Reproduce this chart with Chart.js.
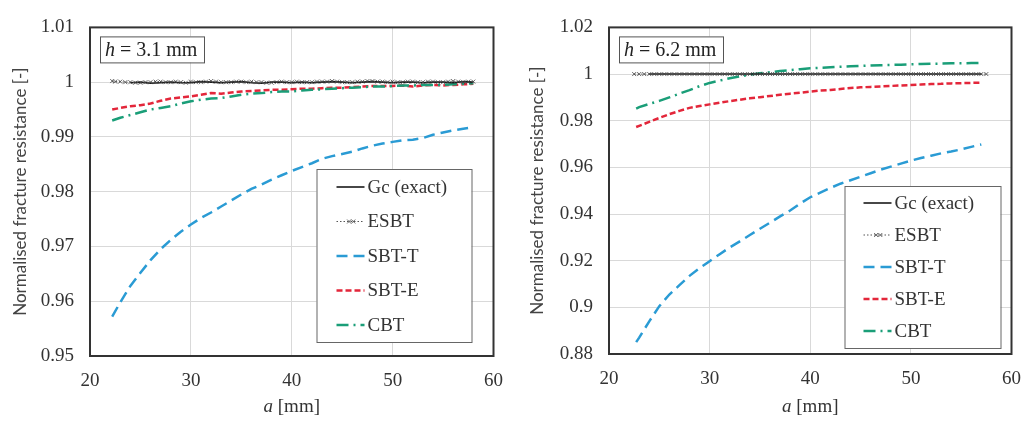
<!DOCTYPE html>
<html>
<head>
<meta charset="utf-8">
<script src="https://cdn.jsdelivr.net/npm/chart.js@4.4.1/dist/chart.umd.min.js"></script>
<style>
  html, body { margin: 0; padding: 0; background: #fff; }
  #wrap { position: relative; width: 1035px; height: 423px; }
  canvas { position: absolute; top: 0; }
  #left { left: 0; }
  #right { left: 517px; }
</style>
</head>
<body>
<div id="wrap">
  <canvas id="left" width="517" height="423"></canvas>
  <canvas id="right" width="518" height="423"></canvas>
</div>
<script>
// ---- data: left panel (h = 3.1 mm) ----
const aLeft = [22.2, 23, 24, 25, 26, 27, 28, 29, 30, 31, 32, 33, 34, 35, 36, 37, 38, 39, 40,
  41, 42, 43, 44, 45, 46, 47, 48, 49, 50, 51, 52, 53, 54, 55, 56, 57, 58];
const gcLeft = [null, null, 0.9999, 1.0000, 0.9998, 0.9999, 1.0000, 0.9999, 0.9999, 1.0001, 1.0000,
  0.9999, 1.0000, 1.0001, 0.9999, 0.9998, 1.0000, 1.0000, 0.9999, 1.0000, 0.9999, 1.0000, 1.0001,
  1.0000, 0.9999, 1.0000, 1.0001, 1.0000, 0.9999, 1.0000, 1.0000, 0.9999, 1.0000, 1.0000, 0.9999,
  1.0001, 1.0000];
const sbtTLeft = [0.9572, 0.9598, 0.9628, 0.9652, 0.9675, 0.9695, 0.9712, 0.9727, 0.9740, 0.9752,
  0.9762, 0.9773, 0.9784, 0.9795, 0.9805, 0.9813, 0.9822, 0.9830, 0.9838, 0.9845, 0.9852, 0.9860,
  0.9865, 0.9869, 0.9873, 0.9879, 0.9884, 0.9888, 0.9891, 0.9894, 0.9895, 0.9898, 0.9904, 0.9908,
  0.9912, 0.9915, 0.9918];
const sbtELeft = [0.9950, 0.9953, 0.9956, 0.9958, 0.9961, 0.9966, 0.9970, 0.9972, 0.9974, 0.9977,
  0.9980, 0.9979, 0.9981, 0.9983, 0.9984, 0.9985, 0.9986, 0.9986, 0.9987, 0.9988, 0.9988, 0.9989,
  0.9990, 0.9990, 0.9991, 0.9992, 0.9993, 0.9993, 0.9993, 0.9994, 0.9992, 0.9994, 0.9995, 0.9994,
  0.9995, 0.9996, 0.9997];
const cbtLeft = [0.9930, 0.9935, 0.9940, 0.9945, 0.9950, 0.9953, 0.9956, 0.9961, 0.9965, 0.9968,
  0.9970, 0.9971, 0.9974, 0.9977, 0.9979, 0.9980, 0.9982, 0.9983, 0.9983, 0.9985, 0.9986, 0.9987,
  0.9988, 0.9989, 0.9990, 0.9991, 0.9992, 0.9992, 0.9993, 0.9994, 0.9994, 0.9995, 0.9995, 0.9995,
  0.9996, 0.9997, 0.9998];
// ESBT is sampled more densely (every 0.5 mm)
const aEsbtLeft = [22.2, 22.5, 23, 23.5, 24, 24.5, 25, 25.5, 26, 26.5, 27, 27.5, 28, 28.5, 29, 29.5,
  30, 30.5, 31, 31.5, 32, 32.5, 33, 33.5, 34, 34.5, 35, 35.5, 36, 36.5, 37, 37.5, 38, 38.5, 39, 39.5,
  40, 40.5, 41, 41.5, 42, 42.5, 43, 43.5, 44, 44.5, 45, 45.5, 46, 46.5, 47, 47.5, 48, 48.5, 49, 49.5,
  50, 50.5, 51, 51.5, 52, 52.5, 53, 53.5, 54, 54.5, 55, 55.5, 56, 56.5, 57, 57.5, 58];
const esbtLeft = [1.0002, 1.0001, 1.0001, 1.0000, 1.0000, 0.9999, 0.9999, 1.0000, 1.0000, 1.0001,
  1.0001, 1.0000, 1.0000, 1.0001, 1.0000, 0.9999, 1.0001, 1.0000, 1.0000, 1.0001, 1.0002, 1.0001,
  1.0000, 1.0000, 1.0000, 1.0001, 1.0001, 1.0000, 1.0001, 1.0000, 1.0000, 0.9999, 0.9999, 1.0000,
  1.0001, 1.0000, 1.0000, 1.0001, 1.0000, 1.0000, 1.0000, 1.0001, 1.0001, 1.0001, 1.0002, 1.0001,
  1.0000, 1.0000, 1.0000, 1.0001, 1.0001, 1.0002, 1.0002, 1.0001, 1.0001, 1.0000, 1.0001, 1.0000,
  1.0000, 1.0001, 1.0001, 1.0000, 1.0000, 1.0001, 1.0001, 1.0000, 1.0000, 1.0001, 1.0002, 1.0001,
  1.0000, 1.0001, 1.0001];

// ---- data: right panel (h = 6.2 mm) ----
const aRight = [22.7, 23, 24, 25, 26, 27, 28, 29, 30, 31, 32, 33, 34, 35, 36, 37, 38, 39, 40,
  41, 42, 43, 44, 45, 46, 47, 48, 49, 50, 51, 52, 53, 54, 55, 56, 57];
const gcRight = [null, null, 1, 1, 1, 1, 1, 1, 1, 1, 1, 1, 1, 1, 1, 1, 1, 1, 1, 1, 1, 1, 1, 1, 1,
  1, 1, 1, 1, 1, 1, 1, 1, 1, 1, 1];
const sbtTRight = [0.8851, 0.8870, 0.8940, 0.9005, 0.9055, 0.9095, 0.9135, 0.9168, 0.9198, 0.9228,
  0.9257, 0.9283, 0.9310, 0.9337, 0.9363, 0.9390, 0.9415, 0.9445, 0.9472, 0.9492, 0.9512, 0.9530,
  0.9545, 0.9560, 0.9575, 0.9590, 0.9603, 0.9616, 0.9629, 0.9640, 0.9650, 0.9660, 0.9668, 0.9677,
  0.9688, 0.9698];
const sbtERight = [0.9773, 0.9778, 0.9795, 0.9812, 0.9828, 0.9842, 0.9855, 0.9863, 0.9870, 0.9877,
  0.9884, 0.9890, 0.9896, 0.9901, 0.9906, 0.9911, 0.9916, 0.9920, 0.9925, 0.9929, 0.9932, 0.9936,
  0.9940, 0.9943, 0.9945, 0.9947, 0.9949, 0.9951, 0.9953, 0.9955, 0.9957, 0.9958, 0.9960, 0.9961,
  0.9962, 0.9963];
const cbtRight = [0.9852, 0.9858, 0.9872, 0.9885, 0.9900, 0.9916, 0.9931, 0.9948, 0.9962, 0.9972,
  0.9982, 0.9990, 0.9997, 1.0003, 1.0008, 1.0013, 1.0017, 1.0021, 1.0025, 1.0027, 1.0029, 1.0031,
  1.0033, 1.0035, 1.0037, 1.0038, 1.0039, 1.0040, 1.0042, 1.0043, 1.0044, 1.0045, 1.0046, 1.0046,
  1.0047, 1.0048];
const aEsbtRight = [22.5, 23, 23.5, 24, 24.5, 25, 25.5, 26, 26.5, 27, 27.5, 28, 28.5, 29, 29.5,
  30, 30.5, 31, 31.5, 32, 32.5, 33, 33.5, 34, 34.5, 35, 35.5, 36, 36.5, 37, 37.5, 38, 38.5, 39, 39.5,
  40, 40.5, 41, 41.5, 42, 42.5, 43, 43.5, 44, 44.5, 45, 45.5, 46, 46.5, 47, 47.5, 48, 48.5, 49, 49.5,
  50, 50.5, 51, 51.5, 52, 52.5, 53, 53.5, 54, 54.5, 55, 55.5, 56, 56.5, 57, 57.5];
const esbtRight = [1, 1, 1, 1, 1, 1, 1, 1, 1, 1, 1, 1, 1, 1, 1, 1, 1, 1, 1, 1, 1, 1, 1, 1, 1, 1,
  1, 1, 1, 1, 1, 1, 1, 1, 1, 1, 1, 1, 1, 1, 1, 1, 1, 1, 1, 1, 1, 1, 1, 1, 1, 1, 1, 1, 1, 1, 1, 1,
  1, 1, 1, 1, 1, 1, 1, 1, 1, 1, 1, 1, 1];

const seriesNames = ['Gc (exact)', 'ESBT', 'SBT-T', 'SBT-E', 'CBT'];
const xTicks = [20, 30, 40, 50, 60];

const SERIF = '"Liberation Serif", "DejaVu Serif", serif';

function pts(a, v) {
  return a.map((x, i) => ({ x: x, y: v[i] }));
}

function makeDatasets(a, gc, aEsbt, esbt, sbtT, sbtE, cbt) {
  return [
    { label: seriesNames[0], data: pts(a, gc), borderColor: '#1a1a1a', borderWidth: 1.6,
      pointRadius: 0, order: 2 },
    { label: seriesNames[1], data: pts(aEsbt, esbt), borderColor: '#555', borderWidth: 1,
      borderDash: [1.5, 2], pointStyle: 'crossRot', pointRadius: 2.8,
      pointBorderColor: '#444', pointBorderWidth: 0.8, order: 1 },
    { label: seriesNames[2], data: pts(a, sbtT), borderColor: '#2a9bd4', borderWidth: 2.5,
      borderDash: [11, 6], pointRadius: 0, order: 5 },
    { label: seriesNames[3], data: pts(a, sbtE), borderColor: '#e3263a', borderWidth: 2.5,
      borderDash: [6, 3], pointRadius: 0, order: 4 },
    { label: seriesNames[4], data: pts(a, cbt), borderColor: '#1a9e78', borderWidth: 2.5,
      borderDash: [12, 5, 2, 5], pointRadius: 0, order: 3 }
  ];
}

// frame round the plot area
const framePlugin = {
  id: 'frame',
  afterDatasetsDraw(chart) {
    const c = chart.chartArea, ctx = chart.ctx;
    ctx.save();
    ctx.strokeStyle = '#333';
    ctx.lineWidth = 2;
    ctx.strokeRect(c.left, c.top, c.right - c.left, c.bottom - c.top);
    ctx.restore();
  }
};

// boxed legend inside the plot, with line samples taken from the datasets
const boxLegendPlugin = {
  id: 'boxLegend',
  afterDraw(chart, args, opts) {
    const c = chart.chartArea, ctx = chart.ctx;
    const x0 = c.right - opts.inset.right - opts.width;
    const y0 = c.bottom - opts.inset.bottom - opts.height;
    ctx.save();
    ctx.fillStyle = '#fff';
    ctx.fillRect(x0, y0, opts.width, opts.height);
    ctx.strokeStyle = '#666';
    ctx.lineWidth = 1;
    ctx.strokeRect(x0 + 0.5, y0 + 0.5, opts.width, opts.height);
    ctx.font = '19px ' + SERIF;
    ctx.fillStyle = '#333';
    ctx.textBaseline = 'middle';
    chart.data.datasets.forEach((ds, i) => {
      const y = y0 + opts.firstRow + i * opts.rowGap;
      const lx = x0 + opts.sampleX;
      ctx.save();
      ctx.strokeStyle = ds.borderColor;
      ctx.lineWidth = ds.borderWidth;
      ctx.setLineDash(ds.borderDash || []);
      ctx.beginPath();
      ctx.moveTo(lx, y);
      ctx.lineTo(lx + opts.sampleW, y);
      ctx.stroke();
      if (ds.pointRadius) {
        ctx.setLineDash([]);
        ctx.lineWidth = 0.8;
        ctx.strokeStyle = ds.pointBorderColor;
        [0.45, 0.6].forEach(f => {
          const px = lx + opts.sampleW * f, r = 2;
          ctx.beginPath();
          ctx.moveTo(px - r, y - r); ctx.lineTo(px + r, y + r);
          ctx.moveTo(px - r, y + r); ctx.lineTo(px + r, y - r);
          ctx.stroke();
        });
      }
      ctx.restore();
      ctx.fillText(ds.label, lx + opts.sampleW + 3, y + 1);
    });
    ctx.restore();
  }
};

// "h = ... mm" tag in the top-left corner and the "a [mm]" axis title
const labelsPlugin = {
  id: 'labels',
  afterDraw(chart, args, opts) {
    const c = chart.chartArea, ctx = chart.ctx;
    ctx.save();
    const bx = c.left + 10, by = c.top + 9, bw = 104, bh = 26;
    ctx.fillStyle = '#fff';
    ctx.fillRect(bx, by, bw, bh);
    ctx.strokeStyle = '#555';
    ctx.lineWidth = 1;
    ctx.strokeRect(bx + 0.5, by + 0.5, bw, bh);
    ctx.fillStyle = '#222';
    ctx.textBaseline = 'middle';
    ctx.font = 'italic 20px ' + SERIF;
    ctx.fillText('h', bx + 5, by + bh / 2 + 1);
    const hw = ctx.measureText('h').width;
    ctx.font = '20px ' + SERIF;
    ctx.fillText(' = ' + opts.h + ' mm', bx + 5 + hw, by + bh / 2 + 1);

    // x axis title
    ctx.fillStyle = '#333';
    ctx.font = 'italic 19px ' + SERIF;
    const aw = ctx.measureText('a').width;
    ctx.font = '19px ' + SERIF;
    const rw = ctx.measureText(' [mm]').width;
    const tx = (c.left + c.right) / 2 - (aw + rw) / 2;
    ctx.font = 'italic 19px ' + SERIF;
    ctx.fillText('a', tx, opts.titleY);
    ctx.font = '19px ' + SERIF;
    ctx.fillText(' [mm]', tx + aw, opts.titleY);
    ctx.restore();
  }
};

function makeChart(id, datasets, yMin, yMax, yStep, cfg) {
  return new Chart(document.getElementById(id), {
    type: 'line',
    data: { datasets: datasets },
    options: {
      responsive: false,
      animation: false,
      layout: { padding: { top: 15, right: cfg.padRight, bottom: 0, left: 0 } },
      scales: {
        x: {
          type: 'linear', min: 20, max: 60,
          afterBuildTicks: s => { s.ticks = xTicks.map(v => ({ value: v })); },
          afterFit: s => { s.height = cfg.xHeight; },
          grid: { color: '#d9d9d9', drawTicks: false },
          border: { display: false },
          ticks: { padding: 14, color: '#333', font: { family: SERIF, size: 19 } }
        },
        y: {
          min: yMin, max: yMax,
          afterFit: s => { s.width = cfg.yWidth; },
          grid: { color: '#d9d9d9', drawTicks: false },
          border: { display: false },
          ticks: {
            stepSize: yStep, padding: 16, color: '#333',
            font: { family: SERIF, size: 19 },
            callback: v => String(+v.toFixed(4))
          },
          title: {
            display: true, text: 'Normalised fracture resistance [-]', color: '#444',
            font: { family: 'Lato, "Noto Sans", sans-serif', size: 17 },
            padding: { top: 10, bottom: 0 }
          }
        }
      },
      plugins: {
        legend: { display: false },
        tooltip: { enabled: false },
        boxLegend: cfg.legend,
        labels: { h: cfg.h, titleY: 407 }
      }
    },
    plugins: [framePlugin, boxLegendPlugin, labelsPlugin]
  });
}

makeChart('left',
  makeDatasets(aLeft, gcLeft, aEsbtLeft, esbtLeft, sbtTLeft, sbtELeft, cbtLeft),
  0.95, 1.01, 0.01, {
    padRight: 18, xHeight: 67, yWidth: 90, h: '3.1',
    legend: { inset: { right: 22, bottom: 14 }, width: 155, height: 173,
      firstRow: 18, rowGap: 34.5, sampleX: 20, sampleW: 28 }
  });

makeChart('right',
  makeDatasets(aRight, gcRight, aEsbtRight, esbtRight, sbtTRight, sbtERight, cbtRight),
  0.88, 1.02, 0.02, {
    padRight: 12, xHeight: 69, yWidth: 92, h: '6.2',
    legend: { inset: { right: 11, bottom: 6 }, width: 156, height: 162,
      firstRow: 17, rowGap: 32, sampleX: 19, sampleW: 28 }
  });
</script>
</body>
</html>
